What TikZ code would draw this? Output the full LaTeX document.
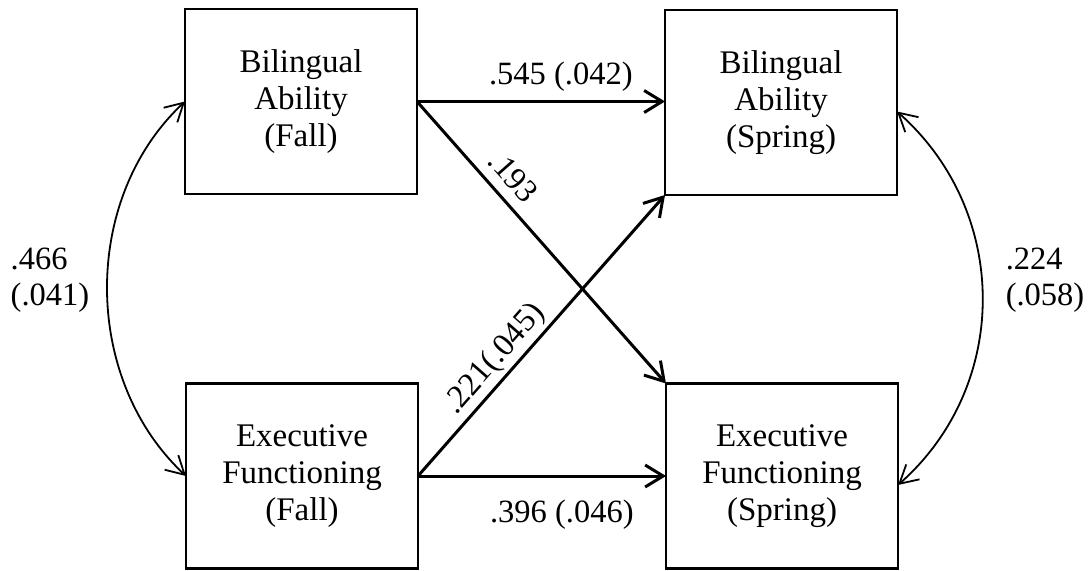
\documentclass[tikz,border=0pt]{standalone}
\usepackage{fontspec}
\setmainfont{Liberation Serif}
\usetikzlibrary{arrows.meta}
\begin{document}
\begin{tikzpicture}[x=1pt,y=-1pt,
  box/.style={draw, line width=2.5pt, minimum width=232pt, minimum height=185pt,
    inner sep=0pt, outer sep=0pt, align=center, font=\fontsize{33}{37}\selectfont},
  pathar/.style={line width=3pt, -{Straight Barb[length=18pt,width=22pt]}},
  cov/.style={line width=1.8pt,
    {Straight Barb[length=18pt,width=20pt]}-{Straight Barb[length=18pt,width=20pt]}},
  lab/.style={font=\fontsize{32.5}{36}\selectfont, inner sep=0pt}]
\useasboundingbox (0,0) rectangle (1091,570);
\node[box] (tl) at (301,101.5) {Bilingual\\Ability\\(Fall)};
\node[box] (tr) at (781,102.5) {Bilingual\\Ability\\(Spring)};
\node[box] (bl) at (302,476) {Executive\\Functioning\\(Fall)};
\node[box] (br) at (782,476) {Executive\\Functioning\\(Spring)};

\draw[pathar] (tl.east) -- (tl.east -| tr.west)
  node[lab, pos=.58, above=9pt] {.545 (.042)};
\draw[pathar] (bl.east) -- (bl.east -| br.west)
  node[lab, pos=.58, below=22pt] {.396 (.046)};
\draw[pathar] (tl.east) -- (br.north west)
  node[lab, pos=.32, sloped, above=10pt] {.193};
\draw[pathar] (bl.east) -- (tr.south west)
  node[lab, pos=.37, sloped, above=3pt] {.221(.045)};

\draw[cov] (tl.west) .. controls +(-104,97) and +(-104,-97) .. (bl.west);
\draw[cov] ([yshift=-9pt]tr.east) .. controls +(113,100) and +(113,-100) .. ([yshift=-9pt]br.east);

\node[lab, align=left] (l1) at (50,280) {.466\\(.041)};
\node[lab, align=left] (l2) at (1045,280) {.224\\(.058)};
\end{tikzpicture}
\end{document}
